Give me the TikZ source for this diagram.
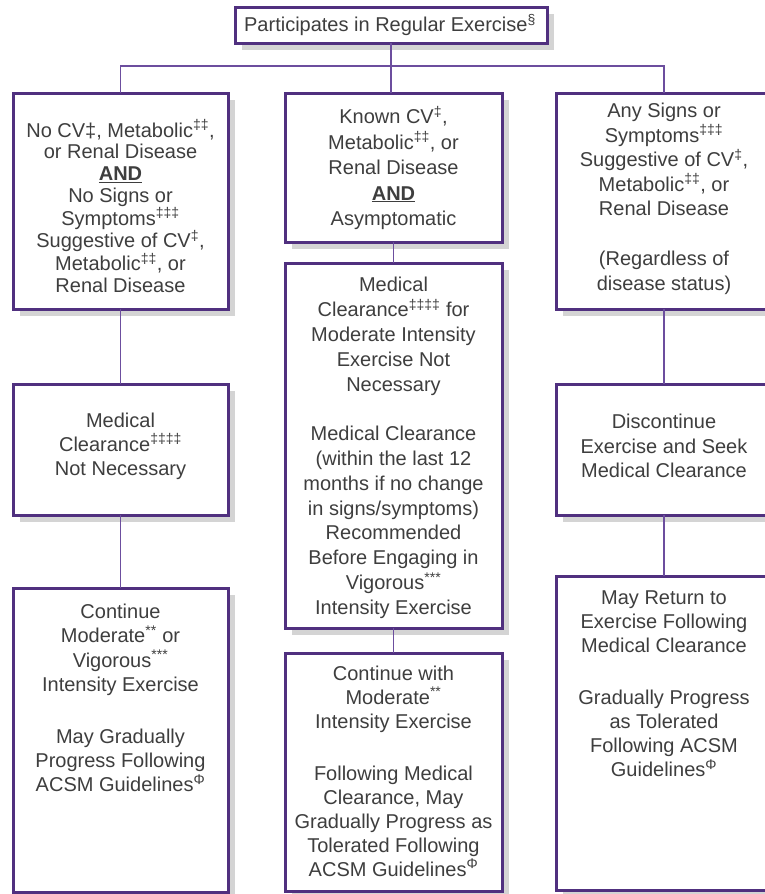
\documentclass[tikz,border=0pt]{standalone}
\usepackage{fontspec}
\setmainfont{Liberation Sans}
\definecolor{boxpurple}{HTML}{50307F}
\definecolor{linepurple}{HTML}{6C4E9E}
\definecolor{txtgray}{HTML}{3E3E3E}
\definecolor{shadowgray}{HTML}{D4D4D4}
\newcommand\spx[1]{\textsuperscript{#1}}
\tikzset{
 flowbox/.style={draw=boxpurple, line width=3pt, fill=white, inner sep=0pt, outer sep=0pt,
   preaction={draw=none, fill=shadowgray, transform canvas={shift={(6.5pt,-6.5pt)}}}},
 boxtext/.style={align=center, text=txtgray, inner sep=0pt, font=\fontsize{20}{24.5}\selectfont},
 conn/.style={draw=linepurple, line width=1.8pt}
}
\begin{document}
\begin{tikzpicture}[x=1pt,y=-1pt]
\useasboundingbox (0,0) rectangle (764,894);
\coordinate (barl) at (120.5,66);
\coordinate (barr) at (664,66);
% boxes
\node[flowbox, minimum width=312, minimum height=36] (top) at (391,25) {};
\node[flowbox, minimum width=215, minimum height=216] (l1) at (120.5,201) {};
\node[flowbox, minimum width=217, minimum height=149] (m1) at (393.5,167.5) {};
\node[flowbox, minimum width=216, minimum height=216] (r1) at (664,201) {};
\node[flowbox, minimum width=215, minimum height=131] (l2) at (120.5,449.5) {};
\node[flowbox, minimum width=217, minimum height=365] (m2) at (393.5,445.5) {};
\node[flowbox, minimum width=216, minimum height=131] (r2) at (664,449.5) {};
\node[flowbox, minimum width=215, minimum height=304] (l3) at (120.5,740) {};
\node[flowbox, minimum width=217, minimum height=238] (m3) at (393.5,772) {};
\node[flowbox, minimum width=216, minimum height=314] (r3) at (664,733) {};
% connectors
\draw[conn] (top.south) -- (top.south |- m1.north);
\draw[conn] (l1.north) -- (barl) -- (barr) -- (r1.north);
\draw[conn] (l1.south) -- (l2.north);
\draw[conn] (l2.south) -- (l3.north);
\draw[conn] (m1.south) -- (m2.north);
\draw[conn] (m2.south) -- (m3.north);
\draw[conn] (r1.south) -- (r2.north);
\draw[conn] (r2.south) -- (r3.north);
% texts
\node[boxtext] (ttop) at (390,25) {Participates in Regular Exercise\spx{§}};
\node[boxtext, font=\fontsize{20}{21.75}\selectfont] (tl1) at (120.5,206) {No CV‡, Metabolic\spx{‡‡},\\ or Renal Disease\\ \textbf{\underline{AND}}\\ No Signs or\\ Symptoms\spx{‡‡‡}\\ Suggestive of CV\spx{‡},\\ Metabolic\spx{‡‡}, or\\ Renal Disease};
\node[boxtext, font=\fontsize{20}{25.5}\selectfont] (tm1) at (393.5,168) {Known CV\spx{‡},\\ Metabolic\spx{‡‡}, or\\ Renal Disease\\ \textbf{\underline{AND}}\\ Asymptomatic};
\node[boxtext] (tr1) at (664,199) {Any Signs or\\ Symptoms\spx{‡‡‡}\\ Suggestive of CV\spx{‡},\\ Metabolic\spx{‡‡}, or\\ Renal Disease\\[25.5pt] (Regardless of\\ disease status)};
\node[boxtext, font=\fontsize{20}{24}\selectfont] (tl2) at (120.5,446) {Medical\\ Clearance\spx{‡‡‡‡}\\ Not Necessary};
\node[boxtext, font=\fontsize{20}{24.8}\selectfont] (tm2) at (393.5,448) {Medical\\ Clearance\spx{‡‡‡‡} for\\ Moderate Intensity\\ Exercise Not\\ Necessary\\[24.8pt] Medical Clearance\\ (within the last 12\\ months if no change\\ in signs/symptoms)\\ Recommended\\ Before Engaging in\\ Vigorous\spx{***}\\ Intensity Exercise};
\node[boxtext, font=\fontsize{20}{24.5}\selectfont] (tr2) at (664,446) {Discontinue\\ Exercise and Seek\\ Medical Clearance};
\node[boxtext, font=\fontsize{20}{24.3}\selectfont] (tl3) at (120.5,698) {Continue\\ Moderate\spx{**} or\\ Vigorous\spx{***}\\ Intensity Exercise\\[27.5pt] May Gradually\\ Progress Following\\ ACSM Guidelines\spx{Φ}};
\node[boxtext, font=\fontsize{20}{24}\selectfont] (tm3) at (393.5,771) {Continue with\\ Moderate\spx{**}\\ Intensity Exercise\\[28pt] Following Medical\\ Clearance, May\\ Gradually Progress as\\ Tolerated Following\\ ACSM Guidelines\spx{Φ}};
\node[boxtext, font=\fontsize{20}{24}\selectfont] (tr3) at (664,684) {May Return to\\ Exercise Following\\ Medical Clearance\\[28pt] Gradually Progress\\ as Tolerated\\ Following ACSM\\ Guidelines\spx{Φ}};
\end{tikzpicture}
\end{document}
